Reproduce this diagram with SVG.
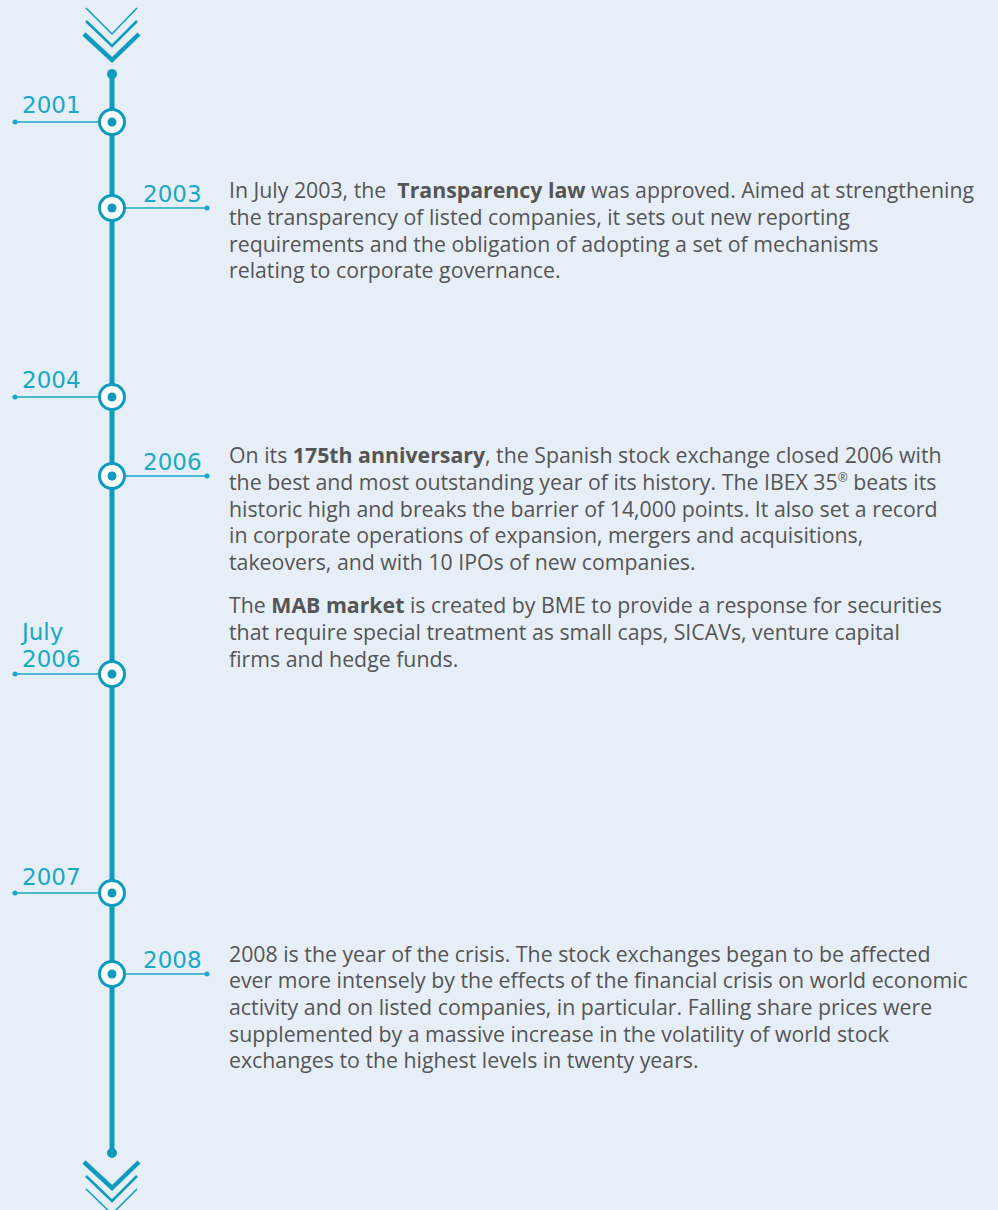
<svg xmlns="http://www.w3.org/2000/svg" width="998" height="1210" viewBox="0 0 998 1210">
<defs>
<style>
.bg{fill:#e6eff7}
.spine{stroke:#0e9bbd;stroke-width:5;fill:none}
.conn{stroke:#1aa8c8;stroke-width:1.5;fill:none}
.cend{fill:#1aa8c8}
.ring{fill:#ffffff;stroke:#0e9bbd;stroke-width:3}
.dot{fill:#0e9bbd}
.year{font-family:"DejaVu Sans","Noto Sans",sans-serif;font-size:23px;fill:#1aa8c8}
.body{font-family:"Open Sans","Noto Sans",sans-serif;font-size:21.3px;fill:#555555}
.b{font-weight:bold}
.chev{stroke:#0e9bbd;fill:none;stroke-linejoin:miter}
</style>
</defs>
<rect class="bg" x="0" y="0" width="998" height="1210"/>
<g id="top-arrow">
<polyline class="chev" stroke-width="1.5" points="86,8 112,34 137,8"/>
<polyline class="chev" stroke-width="2.5" points="86,21 112,46 137,21"/>
<polyline class="chev" stroke-width="4.5" points="84,34 112,60 139,34"/>
</g>
<g id="connectors">
<line class="spine" x1="112" y1="74" x2="112" y2="1153"/>
<circle class="dot" cx="112" cy="74" r="5"/>
<circle class="dot" cx="112" cy="1153" r="5"/>
<line class="conn" x1="15" y1="122" x2="98" y2="122"/><circle class="cend" cx="15" cy="122" r="2.5"/>
<line class="conn" x1="126" y1="208" x2="207" y2="208"/><circle class="cend" cx="207" cy="208" r="2.5"/>
<line class="conn" x1="15" y1="397" x2="98" y2="397"/><circle class="cend" cx="15" cy="397" r="2.5"/>
<line class="conn" x1="126" y1="476" x2="207" y2="476"/><circle class="cend" cx="207" cy="476" r="2.5"/>
<line class="conn" x1="15" y1="674" x2="98" y2="674"/><circle class="cend" cx="15" cy="674" r="2.5"/>
<line class="conn" x1="15" y1="893" x2="98" y2="893"/><circle class="cend" cx="15" cy="893" r="2.5"/>
<line class="conn" x1="126" y1="974" x2="207" y2="974"/><circle class="cend" cx="207" cy="974" r="2.5"/>
</g>
<g id="n2001"><circle class="ring" cx="112" cy="122" r="12.5"/><circle class="dot" cx="112" cy="122" r="4.5"/><text class="year" x="22" y="113">2001</text></g>
<g id="n2003"><circle class="ring" cx="112" cy="208" r="12.5"/><circle class="dot" cx="112" cy="208" r="4.5"/><text class="year" x="143" y="202">2003</text>
<text class="body"><tspan x="229" y="198">In July 2003, the&#160; <tspan class="b">Transparency law</tspan> was approved. Aimed at strengthening</tspan><tspan x="229" y="225">the transparency of listed companies, it sets out new reporting</tspan><tspan x="229" y="252">requirements and the obligation of adopting a set of mechanisms</tspan><tspan x="229" y="278">relating to corporate governance.</tspan></text></g>
<g id="n2004"><circle class="ring" cx="112" cy="397" r="12.5"/><circle class="dot" cx="112" cy="397" r="4.5"/><text class="year" x="22" y="388">2004</text></g>
<g id="n2006"><circle class="ring" cx="112" cy="476" r="12.5"/><circle class="dot" cx="112" cy="476" r="4.5"/><text class="year" x="143" y="470">2006</text>
<text class="body"><tspan x="229" y="463">On its <tspan class="b">175th anniversary</tspan>, the Spanish stock exchange closed 2006 with</tspan><tspan x="229" y="490">the best and most outstanding year of its history. The IBEX 35<tspan font-size="12" dy="-8">®</tspan><tspan dy="8"> beats its</tspan></tspan><tspan x="229" y="517">historic high and breaks the barrier of 14,000 points. It also set a record</tspan><tspan x="229" y="543">in corporate operations of expansion, mergers and acquisitions,</tspan><tspan x="229" y="570">takeovers, and with 10 IPOs of new companies.</tspan></text>
<text class="body"><tspan x="229" y="613">The <tspan class="b">MAB market</tspan> is created by BME to provide a response for securities</tspan><tspan x="229" y="640">that require special treatment as small caps, SICAVs, venture capital</tspan><tspan x="229" y="667">firms and hedge funds.</tspan></text></g>
<g id="nJuly2006"><circle class="ring" cx="112" cy="674" r="12.5"/><circle class="dot" cx="112" cy="674" r="4.5"/><text class="year"><tspan x="22" y="640">July</tspan><tspan x="22" y="667">2006</tspan></text></g>
<g id="n2007"><circle class="ring" cx="112" cy="893" r="12.5"/><circle class="dot" cx="112" cy="893" r="4.5"/><text class="year" x="22" y="885">2007</text></g>
<g id="n2008"><circle class="ring" cx="112" cy="974" r="12.5"/><circle class="dot" cx="112" cy="974" r="4.5"/><text class="year" x="143" y="968">2008</text>
<text class="body"><tspan x="229" y="962">2008 is the year of the crisis. The stock exchanges began to be affected</tspan><tspan x="229" y="988">ever more intensely by the effects of the financial crisis on world economic</tspan><tspan x="229" y="1015">activity and on listed companies, in particular. Falling share prices were</tspan><tspan x="229" y="1042">supplemented by a massive increase in the volatility of world stock</tspan><tspan x="229" y="1068">exchanges to the highest levels in twenty years.</tspan></text></g>
<g id="bottom-arrow">
<polyline class="chev" stroke-width="4.5" points="84,1162 112,1188 139,1162"/>
<polyline class="chev" stroke-width="2.5" points="86,1176 112,1201 137,1176"/>
<polyline class="chev" stroke-width="1.5" points="86,1189 112,1214 137,1189"/>
</g>
</svg>
